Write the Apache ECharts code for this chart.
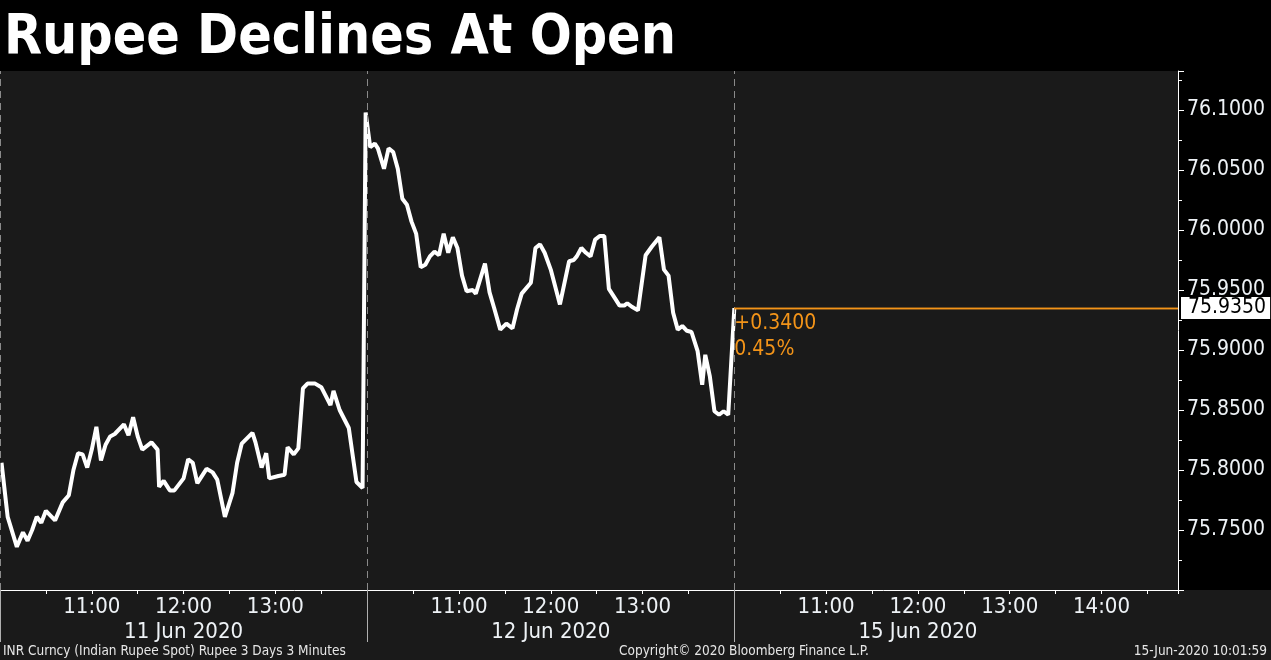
<!DOCTYPE html>
<html>
<head>
<meta charset="utf-8">
<script src="https://cdn.jsdelivr.net/npm/echarts@6/dist/echarts.min.js"></script>
<style>
html,body{margin:0;padding:0;background:#000;}
#chart{width:1271px;height:660px;}
</style>
</head>
<body>
<div id="chart"></div>
<script>
// ---- data ----
const titleText = 'Rupee Declines At Open';
const dayLabels = ['11 Jun 2020', '12 Jun 2020', '15 Jun 2020'];
const sessionStartHour = 10;      // each session axis starts at 10:00
const sessionMinutes = 240;       // 10:00 - 14:00 per day
const axisMaxMinutes = 770;       // visible extent of the time axis
const yTickValues = ['75.7500', '75.8000', '75.8500', '75.9000', '75.9500', '76.0000', '76.0500', '76.1000'];

// minutes since 10:00 within each day, and INR spot values
const day1Minutes = [1,5,11,15,18,21,24,27,30,36,41,45,48,51,54,57,60,63,66,69,72,75,81,84,87,90,93,99,103,104,107,111,114,120,123,126,129,135,139,142,147,152,155,158,165,167,171,174,176,182,186,188,192,195,198,201,206,210,216,218,222,228,233,237];
const day1Values = [75.806,75.761,75.736,75.748,75.741,75.750,75.761,75.756,75.766,75.758,75.773,75.779,75.800,75.814,75.813,75.802,75.817,75.836,75.808,75.821,75.828,75.830,75.838,75.829,75.844,75.828,75.817,75.823,75.817,75.786,75.791,75.783,75.783,75.793,75.809,75.806,75.789,75.801,75.798,75.792,75.761,75.781,75.806,75.822,75.831,75.823,75.802,75.814,75.793,75.795,75.796,75.819,75.813,75.818,75.868,75.872,75.872,75.869,75.854,75.866,75.850,75.835,75.790,75.785];

const day2Minutes = [-1,2,5,7,11,14,17,20,23,26,29,32,35,38,41,44,47,50,53,56,59,62,65,69,71,77,80,83,87,91,95,98,101,107,110,113,116,120,126,132,135,137,140,143,146,149,152,155,158,162,165,168,170,173,177,182,186,191,194,197,200,203,206,209,212,216,219,221,224,227,230,233,236];
const day2Values = [76.098,76.069,76.072,76.068,76.051,76.068,76.065,76.051,76.026,76.021,76.007,75.997,75.969,75.971,75.978,75.982,75.979,75.997,75.981,75.994,75.985,75.962,75.949,75.950,75.947,75.972,75.948,75.935,75.917,75.922,75.918,75.934,75.947,75.956,75.985,75.988,75.981,75.967,75.938,75.974,75.975,75.978,75.985,75.981,75.978,75.992,75.995,75.995,75.951,75.943,75.937,75.937,75.939,75.936,75.933,75.979,75.986,75.994,75.967,75.962,75.931,75.917,75.920,75.916,75.915,75.899,75.871,75.896,75.878,75.849,75.846,75.849,75.846];

const day3Minutes = [0];
const day3Values = [75.935];

const changeAbs = '+0.3400';
const changePct = '0.45%';
const footerLeft = 'INR Curncy (Indian Rupee Spot) Rupee 3 Days 3 Minutes';
const footerCenter = 'Copyright\u00a9 2020 Bloomberg Finance L.P.';
const footerRight = '15-Jun-2020 10:01:59';

// ---- build ----
const dayBoundaries = [0, sessionMinutes, 2 * sessionMinutes];
const seriesData = []
  .concat(day1Minutes.map((m, i) => [m, day1Values[i]]))
  .concat(day2Minutes.map((m, i) => [sessionMinutes + m, day2Values[i]]))
  .concat(day3Minutes.map((m, i) => [2 * sessionMinutes + m, day3Values[i]]));
const last = seriesData[seriesData.length - 1];

const FONT = "'DejaVu Sans Condensed', 'DejaVu Sans', sans-serif";
const FOOT_FONT = "13.5px 'DejaVu Sans Condensed', 'DejaVu Sans', sans-serif";
const ORANGE = '#f39419';
const LABEL = '#eef2f6';

function timeLabel(v) {
  if (v % 60 !== 0) return '';
  const day = Math.min(Math.floor(v / sessionMinutes), dayLabels.length - 1);
  const mm = v - day * sessionMinutes;
  if (mm === 0) return '';
  const h = sessionStartHour + mm / 60;
  let s = h + ':00';
  if (mm === sessionMinutes / 2) s += '\n' + dayLabels[day];
  return s;
}

const chart = echarts.init(document.getElementById('chart'), null, {renderer: 'canvas'});
chart.setOption({
  backgroundColor: '#000',
  animation: false,
  title: {
    text: titleText, left: -1, top: 6,
    textStyle: {color: '#fff', fontFamily: FONT, fontWeight: 'bold', fontSize: 55}
  },
  graphic: [
    {type: 'rect', z: -10, shape: {x: 0, y: 590, width: 1271, height: 70}, style: {fill: '#1a1a1a'}, silent: true},
    {type: 'text', left: 3, top: 644, style: {text: footerLeft, fill: '#e6e6e6', font: FOOT_FONT}},
    {type: 'text', left: 619, top: 644, style: {text: footerCenter, fill: '#e6e6e6', font: FOOT_FONT}},
    {type: 'text', right: 4, top: 644, style: {text: footerRight, fill: '#e6e6e6', font: FOOT_FONT}}
  ],
  grid: {left: 0, right: 93, top: 71, bottom: 70, show: true, backgroundColor: '#1a1a1a', borderWidth: 0,
         containLabel: false, outerBoundsMode: 'none'},
  xAxis: [
    {
      type: 'value', min: 0, max: axisMaxMinutes, interval: 30, position: 'bottom',
      axisLine: {show: true, onZero: false, lineStyle: {color: '#ffffff', width: 1}},
      axisTick: {show: true, length: 4, lineStyle: {color: '#ffffff'}},
      splitLine: {show: false},
      axisLabel: {
        formatter: timeLabel, color: LABEL, fontFamily: FONT, fontSize: 22,
        lineHeight: 25, margin: 5
      }
    },
    {
      type: 'value', min: 0, max: axisMaxMinutes, interval: sessionMinutes, position: 'bottom',
      axisLine: {show: false, onZero: false},
      axisTick: {show: true, length: 52, customValues: dayBoundaries, lineStyle: {color: '#b0b0b0'}},
      splitLine: {show: false},
      axisLabel: {show: false}
    }
  ],
  yAxis: {
    type: 'value', position: 'right', min: 75.70, max: 76.1325, interval: 0.05,
    axisLine: {show: true, onZero: false, lineStyle: {color: '#ffffff', width: 1}},
    axisTick: {show: true, length: 6, lineStyle: {color: '#ffffff'}},
    minorTick: {show: true, splitNumber: 2, length: 4, lineStyle: {color: '#ffffff'}},
    splitLine: {show: false},
    axisLabel: {
      showMinLabel: false, showMaxLabel: false, margin: 9, padding: [4, 0, 0, 0],
      color: LABEL, fontFamily: FONT, fontSize: 21,
      formatter: v => { const s = v.toFixed(4); return yTickValues.indexOf(s) >= 0 ? s : ''; }
    }
  },
  series: [{
    type: 'line',
    data: seriesData,
    showSymbol: false,
    symbol: 'none',
    lineStyle: {color: '#ffffff', width: 4},
    z: 3,
    markLine: {
      silent: true,
      symbol: 'none',
      animation: false,
      data: [
        ...dayBoundaries.map(b => ({
          xAxis: b,
          lineStyle: {color: '#8a8a8a', type: [7, 5], width: 1},
          label: {show: false}
        })),
        [
          {coord: [last[0], last[1]],
           lineStyle: {color: ORANGE, type: 'solid', width: 1.3},
           label: {
             show: true, position: 'insideStartBottom', distance: [0, 3],
             formatter: changeAbs + '\n' + changePct,
             color: ORANGE, fontFamily: FONT, fontSize: 21, lineHeight: 26, align: 'left'
           }},
          {coord: [axisMaxMinutes, last[1]]}
        ],
        [
          {coord: [last[0], last[1]],
           lineStyle: {color: ORANGE, type: 'solid', width: 1.3},
           label: {
             show: true, position: 'end', distance: 3,
             formatter: last[1].toFixed(4),
             color: '#000', backgroundColor: '#ffffff', padding: [1, 4, 0, 7],
             fontFamily: FONT, fontSize: 21
           }},
          {coord: [axisMaxMinutes, last[1]]}
        ]
      ]
    }
  }]
});
</script>
</body>
</html>
